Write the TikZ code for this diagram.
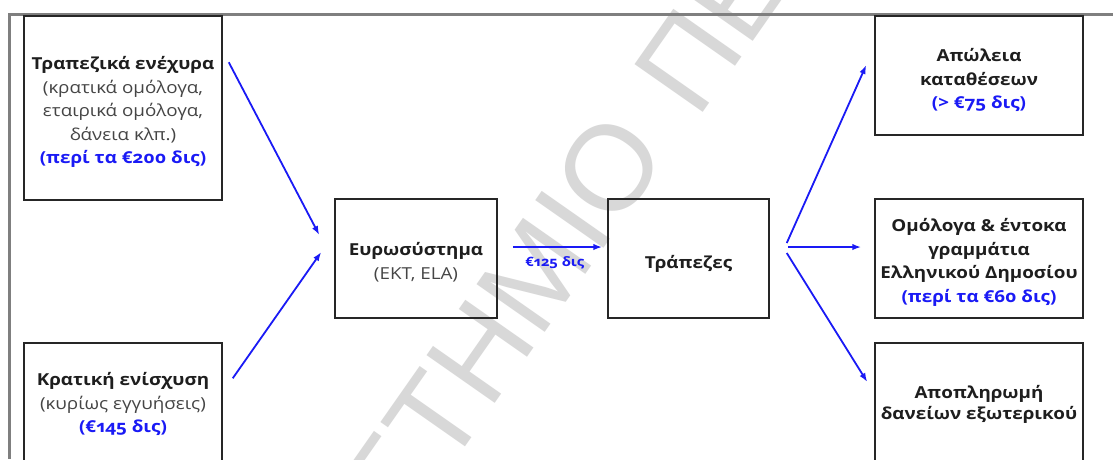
\documentclass[tikz,border=0pt]{standalone}
\usepackage{fontspec}
\setmainfont{Open Sans}[Numbers=OldStyle, FakeStretch=1.14]
\newfontfamily\wmfont{Liberation Sans}
\usetikzlibrary{arrows.meta}
\definecolor{framegray}{HTML}{7F7F7F}
\definecolor{flowblue}{HTML}{1A1AF5}
\definecolor{txtdark}{HTML}{1E1E1E}
\definecolor{txtgray}{HTML}{454545}
\definecolor{wmgray}{HTML}{D8D8D8}
\tikzset{
  box/.style={draw=black!85, line width=1.5pt, fill=none, inner sep=0pt},
  boxtext/.style={align=center, inner sep=0pt, text=txtdark,
    font=\fontsize{16.5}{23.5}\selectfont\bfseries},
  flow/.style={draw=flowblue, line width=1.8pt,
    -{Latex[length=9pt,width=6.5pt]}},
  wm/.style={text=wmgray, inner sep=0pt, rotate=55,
    font=\fontsize{121}{121}\selectfont\wmfont},
  flowlabel/.style={text=flowblue, inner sep=0pt,
    font=\fontsize{13}{13}\selectfont\bfseries}
}
\newcommand{\subtxt}[1]{{\mdseries\color{txtgray}#1}}
\newcommand{\amt}[1]{{\color{flowblue}#1}}
\begin{document}
\begin{tikzpicture}[x=1pt,y=-1pt]
\useasboundingbox (0,0) rectangle (1113,459);
\fill[white] (0,0) rectangle (1113,459);
\begin{scope}
\clip (0,0) rectangle (1113,459);
% watermark
\node[wm, anchor=base east] (wm1) at (671,153) {ΠΑΝΕΠΙΣΤΗΜΙΟ};
\node[wm, anchor=base west] (wm2) at (697,121) {ΠΕΙΡΑΙΩΣ};
% frame
\draw[framegray, line width=3pt] (8,14.5) -- (1113,14.5);
\draw[framegray, line width=3pt] (9.5,13) -- (9.5,459);
% boxes
\node[box, minimum width=198pt, minimum height=184pt] (A) at (123,108) {};
\node[box, minimum width=198pt, minimum height=120pt] (A2) at (123,403) {};
\node[box, minimum width=162pt, minimum height=119pt] (B) at (416,258.5) {};
\node[box, minimum width=161pt, minimum height=119pt] (C) at (688.5,258.5) {};
\node[box, minimum width=208pt, minimum height=119pt] (D) at (979,75.5) {};
\node[box, minimum width=208pt, minimum height=119pt] (E) at (979,258.5) {};
\node[box, minimum width=208pt, minimum height=120pt] (F) at (979,403) {};
% texts
\node[boxtext] (At) at ([yshift=-4pt]A.center)
  {Τραπεζικά ενέχυρα\\ \subtxt{(κρατικά ομόλογα,}\\ \subtxt{εταιρικά ομόλογα,}\\ \subtxt{δάνεια κλπ.)}\\ \amt{(περί τα €200 δις)}};
\node[boxtext] (A2t) at ([yshift=-1pt]A2.center)
  {Κρατική ενίσχυση\\ \subtxt{(κυρίως εγγυήσεις)}\\ \amt{(€145 δις)}};
\node[boxtext] (Bt) at ([yshift=-3.5pt]B.center)
  {Ευρωσύστημα\\ \subtxt{(ΕΚΤ, ELA)}};
\node[boxtext] (Ct) at ([yshift=-5pt]C.center) {Τράπεζες};
\node[boxtext] (Dt) at ([yshift=-4.5pt]D.center)
  {Απώλεια\\ καταθέσεων\\ \amt{(> €75 δις)}};
\node[boxtext] (Et) at ([yshift=-4pt]E.center)
  {Ομόλογα \& έντοκα\\ γραμμάτια\\ Ελληνικού Δημοσίου\\ \amt{(περί τα €60 δις)}};
\node[boxtext, font=\fontsize{16.5}{21.5}\selectfont\bfseries] (Ft) at ([yshift=-1.5pt]F.center)
  {Αποπληρωμή\\ δανείων εξωτερικού};
% connectors
\draw[flow] ([shift={(6,47)}]A.north east) -- ([shift={(-15,-23.5)}]B.west);
\draw[flow] ([shift={(10,36)}]A2.north east) -- ([shift={(-13,-6.5)}]B.west);
\draw[flow] ([shift={(15,-11.5)}]B.east) -- ([shift={(-5,-11.5)}]C.west)
  node[flowlabel, pos=0.47, below=9pt] (lbl) {€125 δις};
\draw[flow] ([shift={(17,-15.5)}]C.east) -- ([shift={(-8,-10.5)}]D.west);
\draw[flow] ([shift={(18,-11.5)}]C.east) -- ([shift={(-13,-11.5)}]E.west);
\draw[flow] ([shift={(17,-5.5)}]C.east) -- ([shift={(-7,-21)}]F.west);
\end{scope}
\end{tikzpicture}
\end{document}
